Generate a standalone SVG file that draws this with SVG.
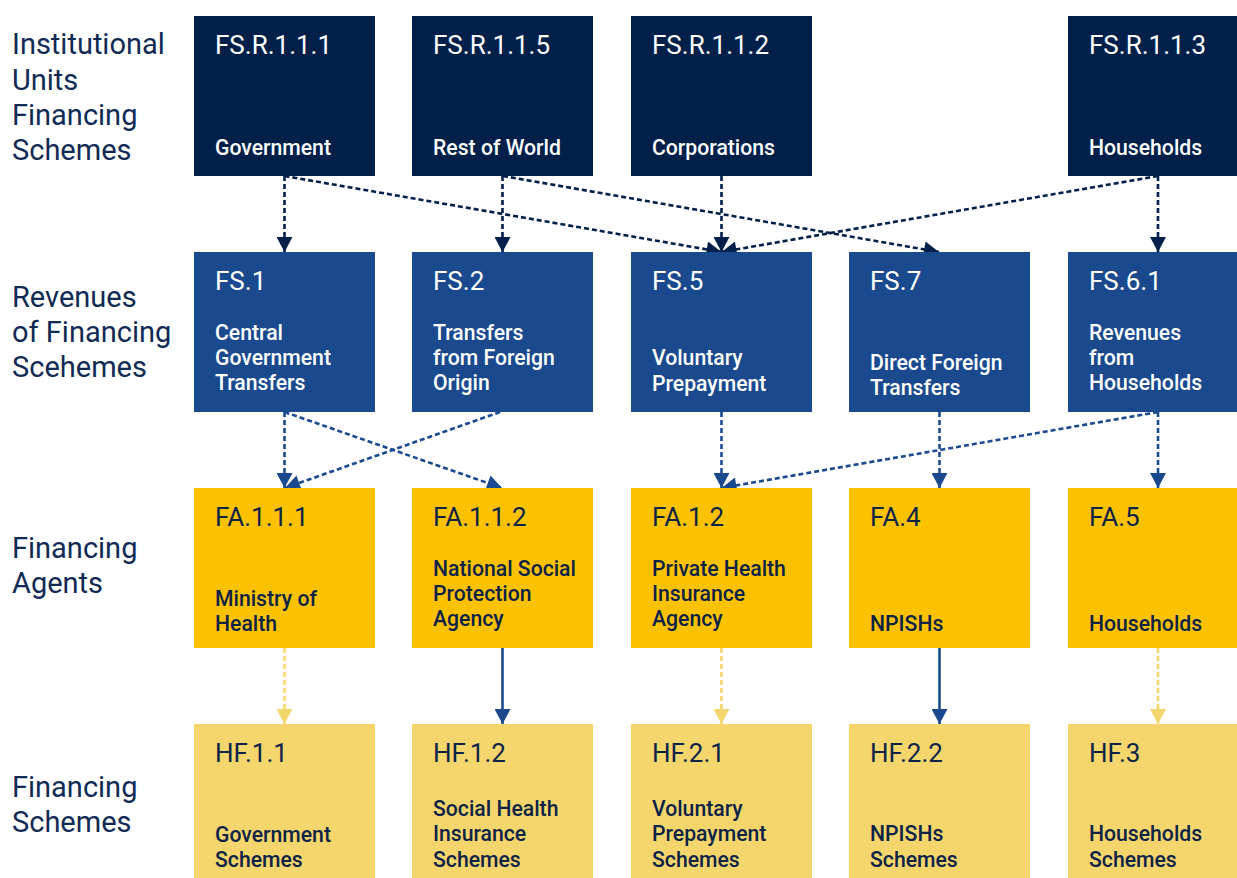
<svg xmlns="http://www.w3.org/2000/svg" width="1237" height="878" viewBox="0 0 1237 878">
<style>
.lbl{font-family:Roboto,"Liberation Sans",sans-serif;font-size:29px;fill:#102a54}
.code{font-family:Roboto,"Liberation Sans",sans-serif;font-size:26px}
.sub{font-family:Roboto,"Liberation Sans",sans-serif;font-size:21.2px;font-weight:500}
.w{fill:#ffffff}
.d{fill:#0c2347}
.r1{fill:#00204a}
.r2{fill:#1a4a8d}
.r3{fill:#fcc200}
.r4{fill:#f5d66d}
.cn{fill:none;stroke-width:2.6}
.dash{stroke-dasharray:5 3}
.cnav{stroke:#00204a;marker-end:url(#mNav)}
.cblu{stroke:#1a4a8d;marker-end:url(#mBlu)}
.cyel{stroke:#f5d66d;marker-end:url(#mYel)}
</style>
<defs>
<marker id="mNav" markerUnits="userSpaceOnUse" markerWidth="16" markerHeight="16" viewBox="0 0 15 16" refX="15" refY="8" orient="auto"><path d="M0,0 L15,8 L0,16 z" fill="#00204a"/></marker>
<marker id="mBlu" markerUnits="userSpaceOnUse" markerWidth="16" markerHeight="16" viewBox="0 0 15 16" refX="15" refY="8" orient="auto"><path d="M0,0 L15,8 L0,16 z" fill="#1a4a8d"/></marker>
<marker id="mYel" markerUnits="userSpaceOnUse" markerWidth="16" markerHeight="16" viewBox="0 0 15 16" refX="15" refY="8" orient="auto"><path d="M0,0 L15,8 L0,16 z" fill="#f5d66d"/></marker>
</defs>
<rect width="1237" height="878" fill="#ffffff"/>

<g id="row-labels">
<text class="lbl" x="12" y="54">Institutional</text>
<text class="lbl" x="12" y="89.5">Units</text>
<text class="lbl" x="12" y="125">Financing</text>
<text class="lbl" x="12" y="160">Schemes</text>
<text class="lbl" x="12" y="307">Revenues</text>
<text class="lbl" x="12" y="342">of Financing</text>
<text class="lbl" x="12" y="377">Scehemes</text>
<text class="lbl" x="12" y="558">Financing</text>
<text class="lbl" x="12" y="593">Agents</text>
<text class="lbl" x="12" y="797">Financing</text>
<text class="lbl" x="12" y="832">Schemes</text>
</g>

<g id="connectors">
<line class="cn dash cnav" x1="284.5" y1="176" x2="284.5" y2="252"/>
<line class="cn dash cnav" x1="284.5" y1="176" x2="721.5" y2="252"/>
<line class="cn dash cnav" x1="502.5" y1="176" x2="502.5" y2="252"/>
<line class="cn dash cnav" x1="503" y1="176" x2="939" y2="252"/>
<line class="cn dash cnav" x1="721.5" y1="176" x2="721.5" y2="252"/>
<line class="cn dash cnav" x1="1158" y1="176" x2="721.5" y2="252"/>
<line class="cn dash cnav" x1="1158" y1="176" x2="1158" y2="252"/>

<line class="cn dash cblu" x1="284.5" y1="412" x2="284.5" y2="488"/>
<line class="cn dash cblu" x1="284.5" y1="412" x2="502" y2="488"/>
<line class="cn dash cblu" x1="500" y1="412" x2="285" y2="488"/>
<line class="cn dash cblu" x1="721.5" y1="412" x2="721.5" y2="488"/>
<line class="cn dash cblu" x1="939.5" y1="412" x2="939.5" y2="488"/>
<line class="cn dash cblu" x1="1158" y1="412" x2="721.5" y2="488"/>
<line class="cn dash cblu" x1="1158" y1="412" x2="1158" y2="488"/>

<line class="cn dash cyel" x1="284.5" y1="648" x2="284.5" y2="724"/>
<line class="cn cblu" x1="502.5" y1="648" x2="502.5" y2="724"/>
<line class="cn dash cyel" x1="721.5" y1="648" x2="721.5" y2="724"/>
<line class="cn cblu" x1="939.5" y1="648" x2="939.5" y2="724"/>
<line class="cn dash cyel" x1="1158" y1="648" x2="1158" y2="724"/>
</g>

<g id="FS.R.1.1.1"><rect class="r1" x="194" y="16" width="181" height="160"/><text class="code w" x="215" y="53.5">FS.R.1.1.1</text><text class="sub w" x="215" y="155">Government</text></g>
<g id="FS.R.1.1.5"><rect class="r1" x="412" y="16" width="181" height="160"/><text class="code w" x="433" y="53.5">FS.R.1.1.5</text><text class="sub w" x="433" y="155">Rest of World</text></g>
<g id="FS.R.1.1.2"><rect class="r1" x="631" y="16" width="181" height="160"/><text class="code w" x="652" y="53.5">FS.R.1.1.2</text><text class="sub w" x="652" y="155">Corporations</text></g>
<g id="FS.R.1.1.3"><rect class="r1" x="1068" y="16" width="181" height="160"/><text class="code w" x="1089" y="53.5">FS.R.1.1.3</text><text class="sub w" x="1089" y="155">Households</text></g>

<g id="FS.1"><rect class="r2" x="194" y="252" width="181" height="160"/><text class="code w" x="215" y="289.5">FS.1</text><text class="sub w" x="215" y="339.5">Central</text><text class="sub w" x="215" y="364.5">Government</text><text class="sub w" x="215" y="390">Transfers</text></g>
<g id="FS.2"><rect class="r2" x="412" y="252" width="181" height="160"/><text class="code w" x="433" y="289.5">FS.2</text><text class="sub w" x="433" y="339.5">Transfers</text><text class="sub w" x="433" y="364.5">from Foreign</text><text class="sub w" x="433" y="390">Origin</text></g>
<g id="FS.5"><rect class="r2" x="631" y="252" width="181" height="160"/><text class="code w" x="652" y="289.5">FS.5</text><text class="sub w" x="652" y="365">Voluntary</text><text class="sub w" x="652" y="390.5">Prepayment</text></g>
<g id="FS.7"><rect class="r2" x="849" y="252" width="181" height="160"/><text class="code w" x="870" y="289.5">FS.7</text><text class="sub w" x="870" y="370">Direct Foreign</text><text class="sub w" x="870" y="394.5">Transfers</text></g>
<g id="FS.6.1"><rect class="r2" x="1068" y="252" width="181" height="160"/><text class="code w" x="1089" y="289.5">FS.6.1</text><text class="sub w" x="1089" y="339.5">Revenues</text><text class="sub w" x="1089" y="364.5">from</text><text class="sub w" x="1089" y="389.5">Households</text></g>

<g id="FA.1.1.1"><rect class="r3" x="194" y="488" width="181" height="160"/><text class="code d" x="215" y="525.5">FA.1.1.1</text><text class="sub d" x="215" y="606">Ministry of</text><text class="sub d" x="215" y="631">Health</text></g>
<g id="FA.1.1.2"><rect class="r3" x="412" y="488" width="181" height="160"/><text class="code d" x="433" y="525.5">FA.1.1.2</text><text class="sub d" x="433" y="576">National Social</text><text class="sub d" x="433" y="601">Protection</text><text class="sub d" x="433" y="626">Agency</text></g>
<g id="FA.1.2"><rect class="r3" x="631" y="488" width="181" height="160"/><text class="code d" x="652" y="525.5">FA.1.2</text><text class="sub d" x="652" y="576">Private Health</text><text class="sub d" x="652" y="601">Insurance</text><text class="sub d" x="652" y="626">Agency</text></g>
<g id="FA.4"><rect class="r3" x="849" y="488" width="181" height="160"/><text class="code d" x="870" y="525.5">FA.4</text><text class="sub d" x="870" y="631">NPISHs</text></g>
<g id="FA.5"><rect class="r3" x="1068" y="488" width="181" height="160"/><text class="code d" x="1089" y="525.5">FA.5</text><text class="sub d" x="1089" y="631">Households</text></g>

<g id="HF.1.1"><rect class="r4" x="194" y="724" width="181" height="160"/><text class="code d" x="215" y="761.5">HF.1.1</text><text class="sub d" x="215" y="841.5">Government</text><text class="sub d" x="215" y="866.5">Schemes</text></g>
<g id="HF.1.2"><rect class="r4" x="412" y="724" width="181" height="160"/><text class="code d" x="433" y="761.5">HF.1.2</text><text class="sub d" x="433" y="816">Social Health</text><text class="sub d" x="433" y="841">Insurance</text><text class="sub d" x="433" y="866.5">Schemes</text></g>
<g id="HF.2.1"><rect class="r4" x="631" y="724" width="181" height="160"/><text class="code d" x="652" y="761.5">HF.2.1</text><text class="sub d" x="652" y="816">Voluntary</text><text class="sub d" x="652" y="841">Prepayment</text><text class="sub d" x="652" y="866.5">Schemes</text></g>
<g id="HF.2.2"><rect class="r4" x="849" y="724" width="181" height="160"/><text class="code d" x="870" y="761.5">HF.2.2</text><text class="sub d" x="870" y="841">NPISHs</text><text class="sub d" x="870" y="866.5">Schemes</text></g>
<g id="HF.3"><rect class="r4" x="1068" y="724" width="181" height="160"/><text class="code d" x="1089" y="761.5">HF.3</text><text class="sub d" x="1089" y="841">Households</text><text class="sub d" x="1089" y="866.5">Schemes</text></g>
</svg>
